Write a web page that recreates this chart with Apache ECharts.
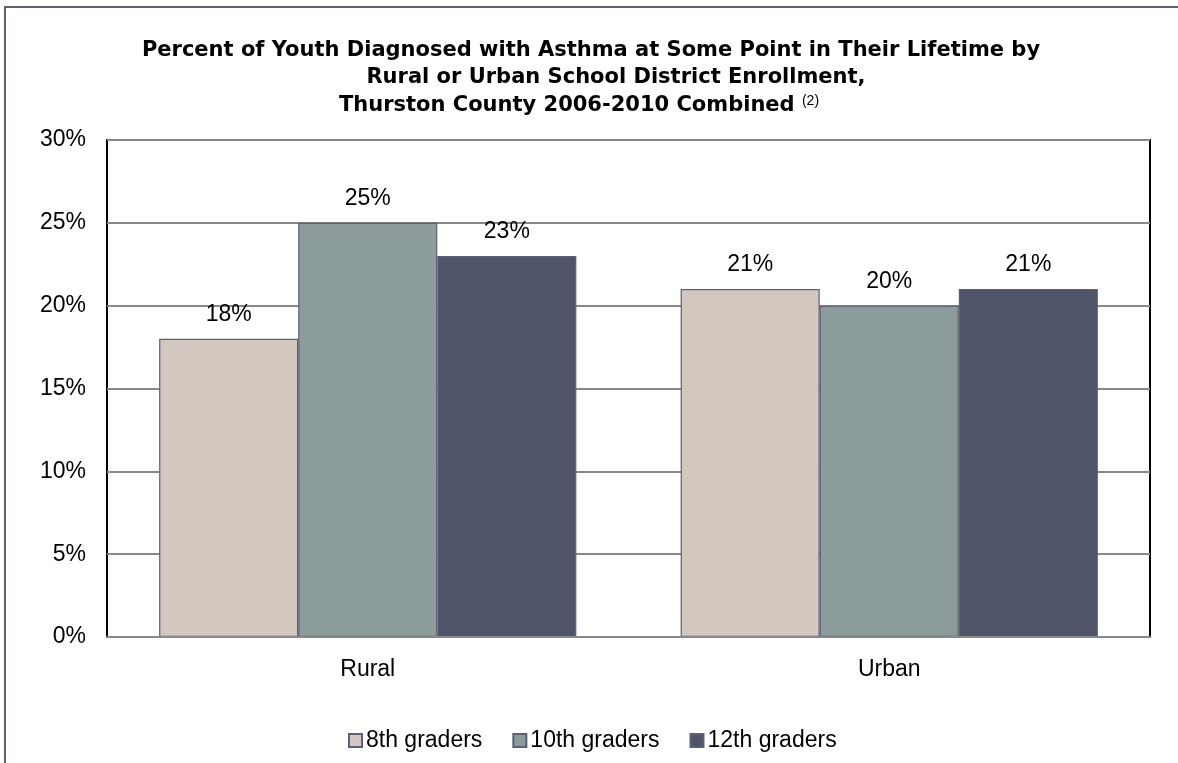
<!DOCTYPE html>
<html>
<head>
<meta charset="utf-8">
<script src="https://cdn.jsdelivr.net/npm/echarts@6/dist/echarts.min.js"></script>
<style>
  html, body { margin: 0; padding: 0; background: #fff; }
  #chart { width: 1178px; height: 763px; }
</style>
</head>
<body>
<div id="chart"></div>
<script>
  // 数据
  var categories = ['Rural', 'Urban'];
  var grade8 = [18, 21];
  var grade10 = [25, 20];
  var grade12 = [23, 21];
  var seriesNames = ['8th graders', '10th graders', '12th graders'];
  var colors = ['#d3c8bf', '#8c9c9a', '#505469'];
  var titleLines = [
    'Percent of Youth Diagnosed with Asthma at Some Point in Their Lifetime by',
    'Rural or Urban School District Enrollment,',
    'Thurston County 2006-2010 Combined {sup|(2)}'
  ];

  var chart = echarts.init(document.getElementById('chart'));

  var titleFont = {
    fontFamily: 'DejaVu Sans',
    fontWeight: 'bold',
    fontSize: 21,
    color: '#000',
    rich: {
      sup: {
        fontFamily: 'Liberation Sans',
        fontSize: 14,
        fontWeight: 'normal',
        verticalAlign: 'top',
        padding: [0, 0, 10, 0],
        color: '#000'
      }
    }
  };

  function barSeries(name, data, color) {
    return {
      name: name,
      type: 'bar',
      data: data,
      barGap: '0%',
      barCategoryGap: '20%',
      itemStyle: {
        color: color,
        borderColor: '#5b5f78',
        borderWidth: 1.2
      },
      label: {
        show: true,
        position: 'top',
        distance: 13,
        formatter: '{c}%',
        fontFamily: 'Liberation Sans',
        fontSize: 23,
        color: '#000'
      }
    };
  }

  var option = {
    backgroundColor: '#fff',
    animation: false,
    // 三行标题分别居中
    title: [
      { text: titleLines[0], left: 586, top: 35, textAlign: 'center', textStyle: titleFont },
      { text: titleLines[1], left: 611, top: 62, textAlign: 'center', textStyle: titleFont },
      { text: titleLines[2], left: 574, top: 89, textAlign: 'center', textStyle: titleFont }
    ],
    graphic: [{
      type: 'rect',
      shape: { x: 5, y: 7, width: 1300, height: 900 },
      style: { fill: 'none', stroke: '#5b6079', lineWidth: 2 },
      z: 100
    }],
    legend: {
      data: seriesNames,
      top: 724,
      left: 343,
      itemWidth: 13,
      itemHeight: 13,
      itemGap: 30,
      icon: 'rect',
      textStyle: {
        fontFamily: 'Liberation Sans',
        fontSize: 23,
        color: '#000',
        padding: [0, 0, 0, -1]
      }
    },
    grid: {
      left: 107,
      right: 28,
      top: 140,
      bottom: 126,
      show: true,
      borderColor: '#000',
      borderWidth: 2,
      backgroundColor: '#fff'
    },
    xAxis: {
      type: 'category',
      data: categories,
      axisTick: { show: false },
      axisLine: { show: true, lineStyle: { color: '#888', width: 2 } },
      axisLabel: {
        fontFamily: 'Liberation Sans',
        fontSize: 23,
        color: '#000',
        margin: 21
      },
      z: 10
    },
    yAxis: {
      type: 'value',
      min: 0,
      max: 30,
      interval: 5,
      axisLine: { show: false },
      axisTick: { show: false },
      axisLabel: {
        formatter: '{value}%',
        fontFamily: 'Liberation Sans',
        fontSize: 23,
        color: '#000',
        margin: 21
      },
      splitLine: { lineStyle: { color: '#888', width: 2 } }
    },
    series: [
      barSeries(seriesNames[0], grade8, colors[0]),
      barSeries(seriesNames[1], grade10, colors[1]),
      barSeries(seriesNames[2], grade12, colors[2])
    ]
  };

  chart.setOption(option);
</script>
</body>
</html>
